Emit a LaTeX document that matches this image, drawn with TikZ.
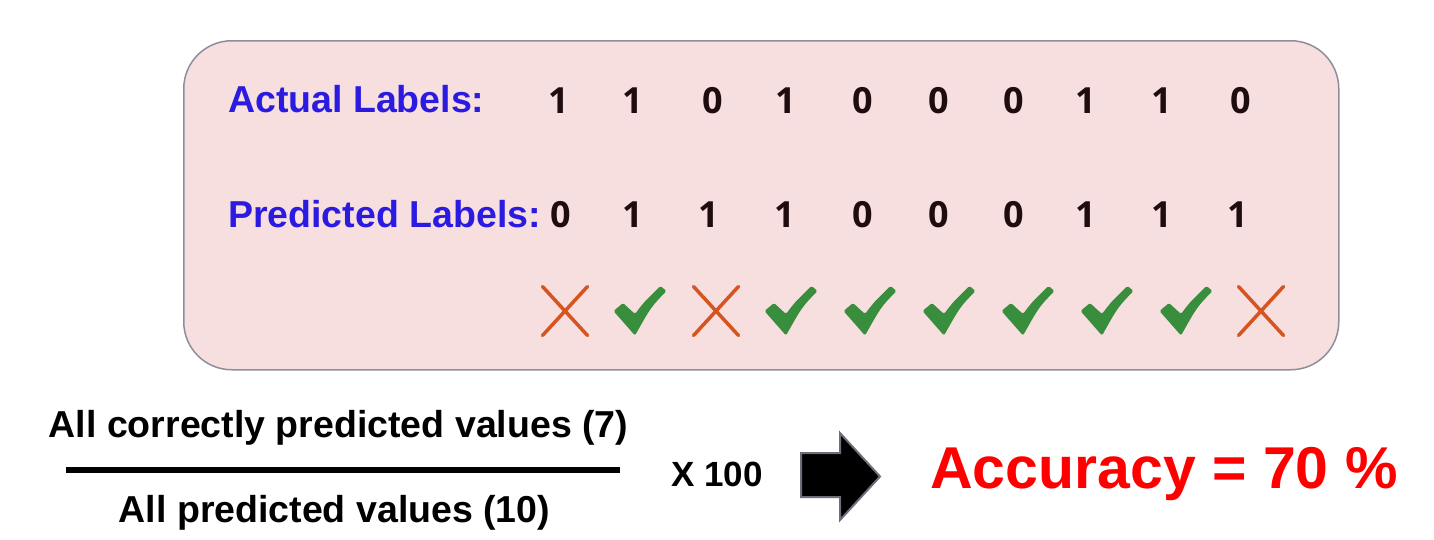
\documentclass[tikz,border=0pt]{standalone}
\usepackage{fontspec}
\setmainfont{Liberation Sans}
\newfontfamily\digitfont{Open Sans}
\usetikzlibrary{positioning}
\definecolor{lblblue}{HTML}{2B1BE0}
\definecolor{bitink}{HTML}{1F0C0E}
\definecolor{panelbg}{HTML}{F7DEDF}
\definecolor{panelbd}{HTML}{8E8E9A}
\definecolor{okgreen}{HTML}{388E3C}
\definecolor{badred}{HTML}{D65420}
\definecolor{accred}{HTML}{FF0000}
\definecolor{arrowbd}{HTML}{6E6E7A}
\tikzset{
  panel/.style={draw=panelbd,fill=panelbg,rounded corners=48pt,
                line width=1.5pt,inner sep=0pt},
  headlbl/.style={text=lblblue,font=\bfseries\fontsize{37.5}{44}\selectfont,
                  inner sep=0pt,anchor=base west},
  bitval/.style={text=bitink,font=\digitfont\bfseries\fontsize{36}{44}\selectfont,
                 inner sep=0pt,anchor=base},
  fractxt/.style={font=\bfseries\fontsize{37.5}{44}\selectfont,inner sep=0pt,
                  anchor=base},
  fracbar/.style={line width=6pt},
  blockarr/.style={fill=black,draw=arrowbd,line width=2pt,line join=miter},
  okmark/.pic={
    \fill[okgreen,rounded corners=1.5pt]
      (-26.5,0) -- (-17,-8) -- (-5,3) .. controls (4,-9) .. (20.5,-25)
      -- (26.5,-20) .. controls (11,-4) .. (-5,24.5) -- cycle;
  },
  badmark/.pic={
    \draw[badred,line width=3.5pt,line cap=round]
      (-22.5,-24.5) -- (22.5,24.5) (-22.5,24.5) -- (22.5,-24.5);
  },
}
\begin{document}
\begin{tikzpicture}[x=1pt,y=-1pt]
  \useasboundingbox (0,0) rectangle (1434,539);
  % pink panel with both label rows
  \node[panel,minimum width=1155pt,minimum height=329pt,anchor=north west]
    (panel) at (183,40) {};
  \node[headlbl] (actlbl) at (228,112) {Actual Labels:};
  \node[headlbl] (predlbl) at (228,227) {Predicted Labels:};
  \foreach \i/\ax/\av/\px/\pv/\mx/\mk in {%
    1/559/1/561/0/565/badmark,
    2/633/1/633/1/640/okmark,
    3/713/0/709/1/716/badmark,
    4/786/1/785/1/791/okmark,
    5/863/0/863/0/870/okmark,
    6/939/0/939/0/949/okmark,
    7/1014/0/1014/0/1028/okmark,
    8/1086/1/1086/1/1107/okmark,
    9/1162/1/1162/1/1186/okmark,
    10/1241/0/1238/1/1261/badmark%
  }{%
    \node[bitval] (a\i) at (\ax,113) {\av};
    \node[bitval] (p\i) at (\px,227) {\pv};
    \pic (m\i) at (\mx,311) {\mk};
  }
  % fraction below the panel
  \node[fractxt] (num) at (338.5,437) {All correctly predicted values (7)};
  \node[fractxt] (den) at (334.5,522) {All predicted values (10)};
  \coordinate (barL) at (66,470);
  \coordinate (barR) at (620,470);
  \draw[fracbar] (barL) -- (barR);
  \node[fractxt,font=\bfseries\fontsize{35}{42}\selectfont,anchor=base west]
    (times) at (671,486) {X 100};
  % block arrow to the result
  \draw[blockarr] (801,453) -- (840,453) -- (840,433) -- (880,476.5)
    -- (840,520) -- (840,497) -- (801,497) -- cycle;
  \node[fractxt,text=accred,font=\bfseries\fontsize{59}{70}\selectfont,
        anchor=base west] (acc) at (930,488) {Accuracy = 70 \%};
\end{tikzpicture}
\end{document}
